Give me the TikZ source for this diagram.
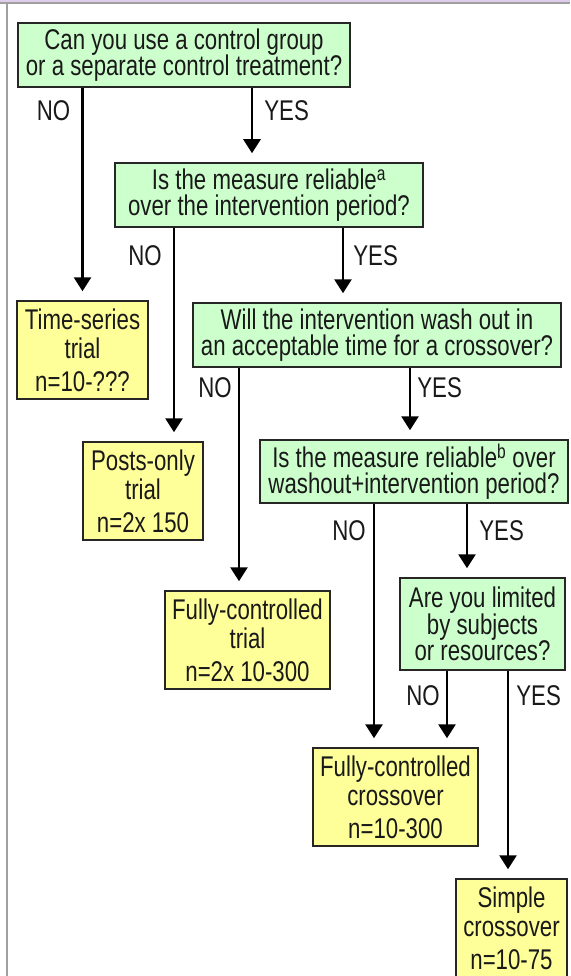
\documentclass[tikz,border=0pt]{standalone}
\usepackage{fontspec}
\setmainfont[FakeStretch=0.78]{Liberation Sans}
\usetikzlibrary{arrows.meta}
\definecolor{qgreen}{RGB}{204,255,204}
\definecolor{tyellow}{RGB}{255,255,153}
\definecolor{framegray}{RGB}{160,160,160}
\definecolor{framelilac}{RGB}{222,205,235}
\setlength{\lineskiplimit}{-30pt}

\begin{document}
\begin{tikzpicture}[x=1pt,y=-1pt,
  box/.style={draw=black!85,line width=1.5pt,align=center,inner sep=0pt,text=black!90},
  question/.style={box,fill=qgreen,font=\fontsize{28.5}{26.5}\selectfont},
  trial/.style={box,fill=tyellow,font=\fontsize{28.5}{29}\selectfont},
  answer/.style={inner sep=0pt,text=black!90,font=\fontsize{28.5}{29}\selectfont},
  arr/.style={line width=2.8pt,-{Triangle[width=17pt,length=14pt]},shorten >=9pt}]
\useasboundingbox (0,0) rectangle (570,976);
\clip (0,0) rectangle (570,976);
\fill[white] (0,0) rectangle (570,976);
\fill[framelilac] (0,0) rectangle (570,2);
\fill[framegray] (0,2) rectangle (570,4);
\fill[framegray] (6,2) rectangle (8,976);

\node[question,minimum width=332pt,minimum height=64pt] (q1) at (184,55) {Can you use a control group\\or a separate control treatment?};
\node[question,minimum width=308pt,minimum height=64pt] (q2) at (269,195) {Is the measure reliable\textsuperscript{a}\\over the intervention period?};
\node[question,minimum width=368pt,minimum height=64pt] (q3) at (377,335) {Will the intervention wash out in\\an acceptable time for a crossover?};
\node[question,minimum width=308pt,minimum height=63pt] (q4) at (414,471.5) {Is the measure reliable\textsuperscript{b} over\\washout+intervention period?};
\node[question,minimum width=165pt,minimum height=92pt] (q5) at (482.5,624) {Are you limited\\by subjects\\or resources?};

\node[trial,minimum width=131pt,minimum height=98pt] (t1) at (82.5,350) {Time-series\\trial\\[4pt]n=10-???};
\node[trial,minimum width=120pt,minimum height=98pt] (t2) at (143,491) {Posts-only\\trial\\[4pt]n=2x 150};
\node[trial,minimum width=165pt,minimum height=98pt] (t3) at (247.5,640) {Fully-controlled\\trial\\[4pt]n=2x 10-300};
\node[trial,minimum width=165pt,minimum height=98pt] (t4) at (395.5,797) {Fully-controlled\\crossover\\[4pt]n=10-300};
\node[trial,minimum width=111pt,minimum height=98pt] (t5) at (511.5,928) {Simple\\crossover\\[4pt]n=10-75};

\draw[arr] (t1.north |- q1.south) -- node[answer,at start,anchor=north east,xshift=-11pt,yshift=-11pt] {NO} (t1.north);
\draw[arr] ([xshift=-17pt]q2.north |- q1.south) -- node[answer,at start,anchor=north west,xshift=11pt,yshift=-11pt] {YES} ([xshift=-17pt]q2.north);
\draw[arr] ([xshift=31pt]t2.north |- q2.south) -- node[answer,at start,anchor=north east,xshift=-11pt,yshift=-16pt] {NO} ([xshift=31pt]t2.north);
\draw[arr] ([xshift=-34pt]q3.north |- q2.south) -- node[answer,at start,anchor=north west,xshift=9pt,yshift=-16pt] {YES} ([xshift=-34pt]q3.north);
\draw[arr] ([xshift=-8.5pt]t3.north |- q3.south) -- node[answer,at start,anchor=north east,xshift=-6pt,yshift=-8pt] {NO} ([xshift=-8.5pt]t3.north);
\draw[arr] ([xshift=-4pt]q4.north |- q3.south) -- node[answer,at start,anchor=north west,xshift=6pt,yshift=-8pt] {YES} ([xshift=-4pt]q4.north);
\draw[arr] ([xshift=-21.5pt]t4.north |- q4.south) -- node[answer,at start,anchor=north east,xshift=-7pt,yshift=-15pt] {NO} ([xshift=-21.5pt]t4.north);
\draw[arr] ([xshift=-15.5pt]q5.north |- q4.south) -- node[answer,at start,anchor=north west,xshift=11pt,yshift=-15pt] {YES} ([xshift=-15.5pt]q5.north);
\draw[arr] ([xshift=51.5pt]t4.north |- q5.south) -- node[answer,at start,anchor=north east,xshift=-6pt,yshift=-13pt] {NO} ([xshift=51.5pt]t4.north);
\draw[arr] ([xshift=-3.5pt]t5.north |- q5.south) -- node[answer,at start,anchor=north west,xshift=7pt,yshift=-13pt] {YES} ([xshift=-3.5pt]t5.north);
\end{tikzpicture}
\end{document}
